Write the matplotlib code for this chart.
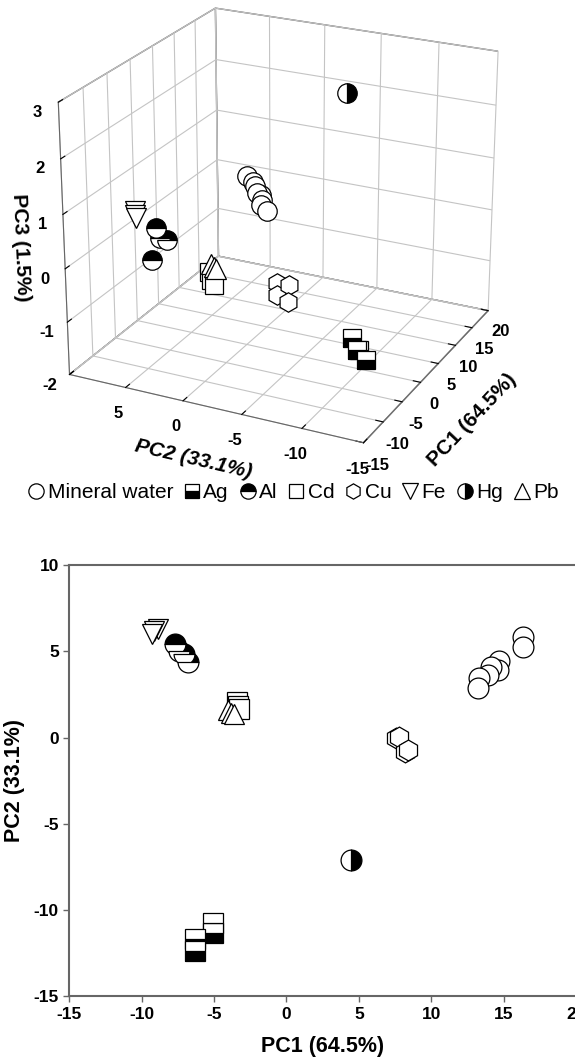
import matplotlib
matplotlib.use("Agg")
import matplotlib.pyplot as plt
from matplotlib.lines import Line2D

plt.rcParams["font.family"] = ["Liberation Sans", "DejaVu Sans"]
plt.rcParams["font.weight"] = "bold"
plt.rcParams["axes.labelweight"] = "bold"
plt.rcParams["axes.unicode_minus"] = False

# PCA scores (PC1, PC2 from the 2D panel, PC3 from the 3D panel)
water_pc1 = [16.35, 16.35, 14.65, 14.6, 14.1, 13.9, 13.3, 13.25]
water_pc2 = [5.85, 5.25, 4.45, 3.9, 4.1, 3.6, 3.45, 2.85]
water_pc3 = [0.05, -0.05, 0.0, -0.15, -0.1, -0.2, -0.25, -0.35]

ag_pc1 = [-5.05, -5.05, -6.3, -6.3]
ag_pc2 = [-11.35, -10.75, -12.35, -11.65]
ag_pc3 = [-1.2, -1.0, -1.25, -1.1]

al_pc1 = [-7.7, -7.45, -7.1, -6.8]
al_pc2 = [5.4, 5.0, 4.85, 4.4]
al_pc3 = [-0.1, 0.5, 0.3, 0.25]

cd_pc1 = [-3.45, -3.35, -3.25]
cd_pc2 = [2.05, 1.85, 1.65]
cd_pc3 = [-0.45, -0.6, -0.7]

cu_pc1 = [7.55, 7.8, 8.2, 8.4]
cu_pc2 = [0.0, 0.05, -0.85, -0.75]
cu_pc3 = [-1.3, -1.55, -1.35, -1.7]

fe_pc1 = [-8.9, -9.15, -9.3]
fe_pc2 = [6.3, 6.15, 6.0]
fe_pc3 = [0.85, 0.8, 0.75]

hg_pc1 = [4.45]
hg_pc2 = [-7.1]
hg_pc3 = [2.75]

pb_pc1 = [-4.05, -3.85, -3.65]
pb_pc2 = [1.6, 1.45, 1.35]
pb_pc3 = [-0.25, -0.3, -0.35]

groups = [
    ("Mineral water", water_pc1, water_pc2, water_pc3),
    ("Ag", ag_pc1, ag_pc2, ag_pc3),
    ("Al", al_pc1, al_pc2, al_pc3),
    ("Cd", cd_pc1, cd_pc2, cd_pc3),
    ("Cu", cu_pc1, cu_pc2, cu_pc3),
    ("Fe", fe_pc1, fe_pc2, fe_pc3),
    ("Hg", hg_pc1, hg_pc2, hg_pc3),
    ("Pb", pb_pc1, pb_pc2, pb_pc3),
]

# marker, fillstyle, size scale
STYLE = {
    "Mineral water": ("o", "full", 1.0),
    "Ag": ("s", "bottom", 0.92),
    "Al": ("o", "top", 1.0),
    "Cd": ("s", "full", 0.92),
    "Cu": ("h", "full", 1.0),
    "Fe": ("v", "full", 1.0),
    "Hg": ("o", "right", 1.0),
    "Pb": ("^", "full", 1.0),
}


def mstyle(name, size):
    m, fs, k = STYLE[name]
    face = "black" if fs != "full" else "white"
    return dict(marker=m, fillstyle=fs, markerfacecolor=face,
                markerfacecoloralt="white", markeredgecolor="black",
                markeredgewidth=0.9, markersize=size * k, linestyle="none")


AX_COL = "#666666"
GRID_COL = "#c4c4c4"

fig = plt.figure(figsize=(5.75, 10.59), dpi=100)

# ---- 3D panel ----
ax3 = fig.add_axes([-0.077, 0.543, 1.12, 0.50], projection="3d")
ax3.set_proj_type("persp", focal_length=0.8)
ax3.view_init(elev=23, azim=-154)
ax3.set_box_aspect((1, 1, 0.9), zoom=0.985)
for name, p1, p2, p3 in groups:
    ax3.plot(p1, p2, p3, **mstyle(name, 14))
ax3.set_xlim(-15, 20)
ax3.set_ylim(-15, 10)
ax3.set_zlim(-2, 3)
ax3.set_xticks(range(-15, 21, 5))
ax3.set_yticks(range(-15, 11, 5))
ax3.set_yticklabels([str(v) for v in range(-15, 10, 5)] + [""])
ax3.set_zticks(range(-2, 4))
for axis in (ax3.xaxis, ax3.yaxis, ax3.zaxis):
    axis.set_pane_color((1, 1, 1, 1))
    axis.pane.set_edgecolor(AX_COL)
    axis.line.set_color(AX_COL)
    axis._axinfo["grid"].update(color=GRID_COL, linewidth=0.8)
    axis._axinfo["tick"].update(inward_factor=0.0, outward_factor=0.3)
ax3.tick_params(labelsize=12, pad=1)
ax3.set_xlabel("PC1 (64.5%)", fontsize=15, labelpad=8)
ax3.set_ylabel("PC2 (33.1%)", fontsize=15, fontstyle="italic", labelpad=4)
ax3.set_zlabel("PC3 (1.5%)", fontsize=15, labelpad=-2)

# ---- legend ----
handles = [Line2D([], [], **mstyle(name, 11)) for name, *_ in groups]
fig.legend(handles, [g[0] for g in groups], loc="center",
           bbox_to_anchor=(0.51, 1 - 493 / 1059), ncol=8, frameon=False,
           prop={"size": 15, "weight": "normal"}, handlelength=0.8,
           handletextpad=0.15, columnspacing=0.5, borderpad=0)

# ---- 2D panel ----
ax = fig.add_axes([69.3 / 575, 62.7 / 1059, (576 - 69.3) / 575, (996.3 - 565) / 1059])
for name, p1, p2, p3 in groups:
    ax.plot(p1, p2, **mstyle(name, 15))
ax.set_xlim(-15, 20)
ax.set_ylim(-15, 10)
ax.set_xticks(range(-15, 21, 5))
ax.set_yticks(range(-15, 11, 5))
for side in ("left", "bottom", "top"):
    ax.spines[side].set_color(AX_COL)
    ax.spines[side].set_linewidth(1.5)
ax.spines["right"].set_visible(False)
ax.tick_params(direction="out", length=4.5, width=1, color=AX_COL,
               labelsize=12.5, pad=3)
ax.set_xlabel("PC1 (64.5%)", fontsize=15.5, labelpad=10)
ax.set_ylabel("PC2 (33.1%)", fontsize=15.5, labelpad=6)

fig.savefig("out.png", dpi=100)
